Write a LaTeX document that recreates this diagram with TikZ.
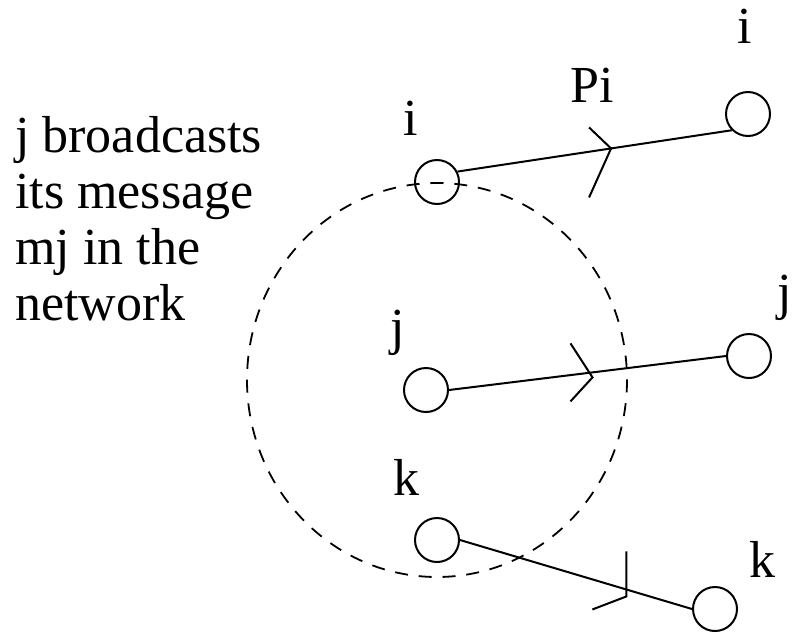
\documentclass[tikz,border=0pt]{standalone}
\usepackage{fontspec}
\newfontfamily\tnr{Liberation Serif}
\usetikzlibrary{calc}
\begin{document}
\begin{tikzpicture}[x=1pt,y=-1pt,
  every node/.style={font=\tnr\fontsize{52}{56}\selectfont, inner sep=0pt},
  station/.style={circle, draw, line width=2pt, minimum size=44pt},
  lbl/.style={anchor=base},
  link/.style={line width=2pt},
  chev/.style={line width=2pt},
  bcastrange/.style={line width=1.8pt, dash pattern=on 13pt off 10.84pt, dash phase=6.5pt}]
\useasboundingbox (0,0) rectangle (793,633);

% stations
\node[station] (iL) at (437,182) {};
\node[station] (iR) at (748,114) {};
\node[station] (jL) at (426,390) {};
\node[station] (jR) at (749,356) {};
\node[station] (kL) at (437,540) {};
\node[station] (kR) at (715,609) {};

% range of j (starts at its top, through the centre of i)
\coordinate (rtop) at (437,183);
\draw[bcastrange] (rtop) arc[start angle=-90, end angle=270, x radius=190, y radius=197];

% labels
\node[lbl] (liL) at (411,135) {i};
\node[lbl] (lPi) at (592,102) {Pi};
\node[lbl] (liR) at (745,43) {i};
\node[lbl] (ljL) at (398,344) {j};
\node[lbl] (ljR) at (785,309) {j};
\node[lbl] (lkL) at (406,495) {k};
\node[lbl] (lkR) at (762,577) {k};
\node[anchor=north west, align=left] (txt) at (15,116)
  {j broadcasts\\its message\\mj in the\\network};

% links
\draw[link] (iL.27) -- (iR.225) coordinate[pos=0.56] (ai);
\draw[chev] ($(ai)+(-22,-21)$) -- (ai) -- ++(-22,49);

\draw[link] (jL.east) -- (jR.west) coordinate[pos=0.518] (aj);
\draw[chev] ($(aj)+(-22,-29)$) -- ($(aj)+(0,5)$) -- ++(-22,24);

\draw[link] (kL.east) -- (kR.west) coordinate[pos=0.717] (ak);
\draw[chev] ($(ak)+(0,-38)$) -- ($(ak)+(0,7)$) -- ++(-34,13);
\end{tikzpicture}
\end{document}
